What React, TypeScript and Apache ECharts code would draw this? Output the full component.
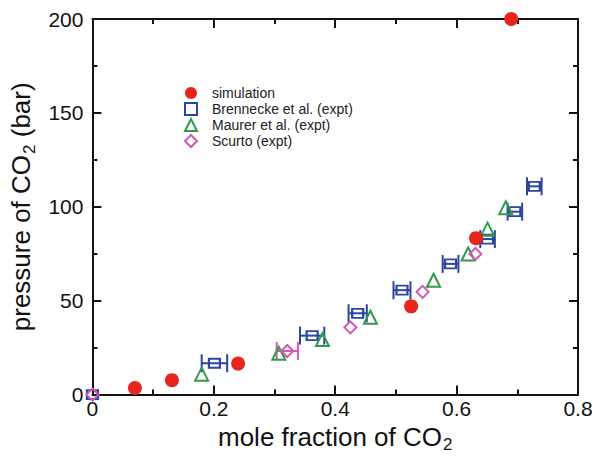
import React, { useEffect, useRef } from "react";
import * as echarts from "echarts";

// ---- data ----
const simX = [0.07, 0.131, 0.24, 0.525, 0.632, 0.69];
const simY = [3.5, 7.7, 16.5, 47, 83.3, 200];

const brenX = [0, 0.201, 0.362, 0.437, 0.51, 0.59, 0.651, 0.696, 0.728];
const brenY = [0, 16.7, 31.4, 43.3, 55.6, 69.6, 82.8, 97.4, 110.9];
const brenErr = [0, 0.021, 0.02, 0.015, 0.014, 0.013, 0.012, 0.012, 0.012];

const maurX = [0.18, 0.307, 0.379, 0.458, 0.562, 0.619, 0.651, 0.681];
const maurY = [10.9, 22, 29.3, 41.2, 60.9, 74.9, 88.1, 99.5];

const scurX = [0, 0.321, 0.425, 0.544, 0.631];
const scurY = [0, 23.2, 35.8, 54.7, 74.9];
const scurErr = [0, 0.0175, 0, 0, 0];

const xTicks = [0, 0.2, 0.4, 0.6, 0.8];
const yTicks = [0, 50, 100, 150, 200];

const names = [
  "simulation",
  "Brennecke et al. (expt)",
  "Maurer et al. (expt)",
  "Scurto (expt)",
];

const RED = "#e8251c";
const BLUE = "#2c45a3";
const GREEN = "#2f9a4b";
const PINK = "#d158b4";
const FONT = "Liberation Sans, Arial, Helvetica, sans-serif";

function errSeries(xs: number[], ys: number[], es: number[], color: string) {
  const data = xs
    .map((x, i) => [x, ys[i], es[i]])
    .filter((d) => d[2] > 0);
  return {
    type: "custom",
    silent: true,
    clip: false,
    z: 1,
    data,
    renderItem: (params: any, api: any) => {
      const x = api.value(0);
      const y = api.value(1);
      const e = api.value(2);
      const p1 = api.coord([x - e, y]);
      const p2 = api.coord([x + e, y]);
      const h = 9;
      const style = { stroke: color, lineWidth: 2 };
      return {
        type: "group",
        children: [
          { type: "line", shape: { x1: p1[0], y1: p1[1], x2: p2[0], y2: p2[1] }, style },
          { type: "line", shape: { x1: p1[0], y1: p1[1] - h, x2: p1[0], y2: p1[1] + h }, style },
          { type: "line", shape: { x1: p2[0], y1: p2[1] - h, x2: p2[0], y2: p2[1] + h }, style },
        ],
      };
    },
  };
}

export default function App() {
  const ref = useRef<HTMLDivElement>(null);
  useEffect(() => {
    if (!ref.current) return;
    const chart = echarts.init(ref.current, undefined, { renderer: "svg" });
    const axisLine = { show: true, onZero: false, lineStyle: { color: "#111", width: 2 } };
    const tickCommon = { show: true, inside: true, length: 9, lineStyle: { color: "#111", width: 2 } };
    const minorCommon = { show: true, splitNumber: 2, length: 5, lineStyle: { color: "#111", width: 2 } };
    const labelStyle = { fontSize: 21, color: "#111", fontFamily: FONT };

    chart.setOption({
      animation: false,
      backgroundColor: "#fff",
      textStyle: { fontFamily: FONT },
      grid: { left: 91, right: 24, top: 19, bottom: 59 },
      legend: {
        data: names,
        orient: "vertical",
        left: 179,
        top: 80,
        itemWidth: 12,
        itemHeight: 12,
        itemGap: 0,
        textStyle: { fontSize: 14, lineHeight: 16, color: "#222", fontFamily: FONT, padding: [0, 0, 0, 10] },
      },
      xAxis: [
        {
          type: "value",
          min: 0,
          max: 0.8,
          interval: 0.2,
          position: "bottom",
          axisLine,
          axisTick: tickCommon,
          minorTick: minorCommon,
          splitLine: { show: false },
          axisLabel: {
            ...labelStyle,
            margin: 3,
            formatter: (v: number) => (xTicks.includes(Math.round(v * 10) / 10) ? String(Math.round(v * 10) / 10) : ""),
          },
          name: "{a|mole fraction of CO}{s|2}",
          nameLocation: "middle",
          nameGap: 24,
          nameTextStyle: {
            rich: {
              a: { fontSize: 26, color: "#111", fontFamily: FONT },
              s: { fontSize: 17, color: "#111", fontFamily: FONT, padding: [16, 0, 0, 1] },
            },
          },
        },
        {
          type: "value",
          min: 0,
          max: 0.8,
          interval: 0.2,
          position: "top",
          axisLine,
          axisTick: tickCommon,
          minorTick: minorCommon,
          splitLine: { show: false },
          axisLabel: { show: false },
        },
      ],
      yAxis: [
        {
          type: "value",
          min: 0,
          max: 200,
          interval: 50,
          position: "left",
          axisLine,
          axisTick: tickCommon,
          minorTick: minorCommon,
          splitLine: { show: false },
          axisLabel: {
            ...labelStyle,
            margin: 9,
            formatter: (v: number) => (yTicks.includes(v) ? String(v) : ""),
          },
          name: "{a|pressure of CO}{s|2}{a| (bar)}",
          nameLocation: "middle",
          nameGap: 46,
          nameTextStyle: {
            rich: {
              a: { fontSize: 26, color: "#111", fontFamily: FONT },
              s: { fontSize: 17, color: "#111", fontFamily: FONT, padding: [16, 0, 0, 1] },
            },
          },
        },
        {
          type: "value",
          min: 0,
          max: 200,
          interval: 50,
          position: "right",
          axisLine,
          axisTick: tickCommon,
          minorTick: minorCommon,
          splitLine: { show: false },
          axisLabel: { show: false },
        },
      ],
      series: [
        errSeries(brenX, brenY, brenErr, BLUE),
        errSeries(scurX, scurY, scurErr, PINK),
        {
          name: names[0],
          type: "scatter",
          symbol: "circle",
          symbolSize: 14,
          clip: false,
          z: 3,
          itemStyle: { color: RED, opacity: 1 },
          data: simX.map((x, i) => [x, simY[i]]),
        },
        {
          name: names[1],
          type: "scatter",
          symbol: "rect",
          symbolSize: [11, 9],
          clip: false,
          z: 2,
          itemStyle: { color: "rgba(255,255,255,0)", borderColor: BLUE, borderWidth: 2, opacity: 1 },
          data: brenX.map((x, i) => [x, brenY[i]]),
        },
        {
          name: names[2],
          type: "scatter",
          symbol: "triangle",
          symbolSize: 13,
          clip: false,
          z: 2,
          itemStyle: { color: "rgba(255,255,255,0)", borderColor: GREEN, borderWidth: 2, opacity: 1 },
          data: maurX.map((x, i) => [x, maurY[i]]),
        },
        {
          name: names[3],
          type: "scatter",
          symbol: "diamond",
          symbolSize: 12,
          clip: false,
          z: 2,
          itemStyle: { color: "rgba(255,255,255,0)", borderColor: PINK, borderWidth: 2, opacity: 1 },
          data: scurX.map((x, i) => [x, scurY[i]]),
        },
      ],
    });
    return () => chart.dispose();
  }, []);
  return <div ref={ref} style={{ width: 602, height: 458, position: "absolute", left: 0, top: 0 }} />;
}
